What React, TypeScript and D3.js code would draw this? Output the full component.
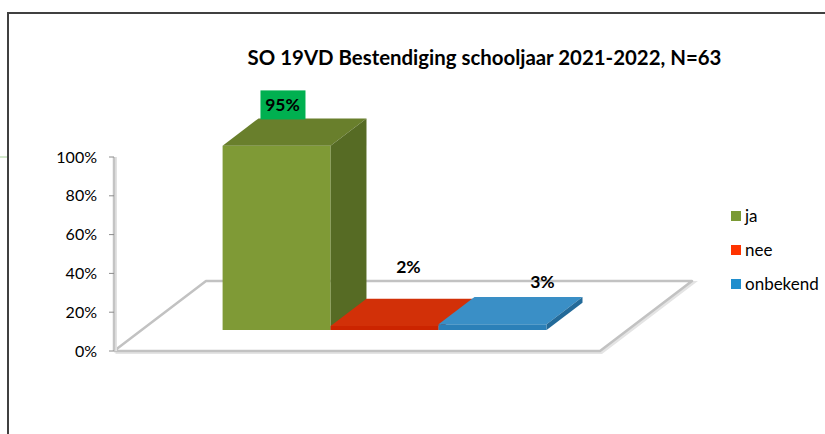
import React from 'react';
import * as d3 from 'd3';

// chart data
const categories = ['ja', 'nee', 'onbekend'];
const shares = [0.95, 0.02, 0.03];
const valueLabels = ['95%', '2%', '3%'];
const yTicks = [0, 0.2, 0.4, 0.6, 0.8, 1];
const title = 'SO 19VD Bestendiging schooljaar 2021-2022, N=63';

// colours per category: front / top / side
const palette = {
  ja: { front: '#7f9a36', top: '#697f2c', side: '#566b24', legend: '#7a9a34' },
  nee: { front: '#cc2400', top: '#d23008', side: '#a81e00', legend: '#ff3300' },
  onbekend: { front: '#2b80b8', top: '#3a8fc6', side: '#236a99', legend: '#1f8ecd' },
};

// layout of the oblique 3D box
const FLOOR_X = 114;
const FLOOR_W = 486;
const DEPTH_X = 92;
const DEPTH_Y = 70;
const BAR_Z0 = 0.3;
const BAR_Z1 = 0.69;
// small per-bar nudges for the data labels, as in the source picture
const labelNudge = [
  { dx: -30, dy: -14 },
  { dx: -12, dy: -32 },
  { dx: 14, dy: -15 },
];

const FONT = 'Lato, "Open Sans", sans-serif';

const App = () => {
  const width = 825;
  const height = 434;

  const y = d3.scaleLinear().domain([0, 1]).range([351, 157]);
  const x = d3.scaleBand<string>()
    .domain(categories)
    .range([0, FLOOR_W])
    .paddingInner(0)
    .paddingOuter(0.75);

  // oblique projection: (floor x, value, depth 0..1) -> screen
  const px = (fx: number, z: number) => FLOOR_X + fx + z * DEPTH_X;
  const py = (v: number, z: number) => y(v) - z * DEPTH_Y;
  const pt = (fx: number, v: number, z: number) => [px(fx, z), py(v, z)] as [number, number];
  const poly = (pts: [number, number][]) => d3.line()(pts.concat([pts[0]])) || '';

  const floor: [number, number][] = [
    pt(0, 0, 0), pt(FLOOR_W, 0, 0), pt(FLOOR_W, 0, 1), pt(0, 0, 1),
  ];

  const bars = categories.map((c, i) => {
    const x0 = x(c) || 0;
    const x1 = x0 + x.bandwidth();
    const v = shares[i];
    const front = poly([pt(x0, 0, BAR_Z0), pt(x1, 0, BAR_Z0), pt(x1, v, BAR_Z0), pt(x0, v, BAR_Z0)]);
    const top = poly([pt(x0, v, BAR_Z0), pt(x1, v, BAR_Z0), pt(x1, v, BAR_Z1), pt(x0, v, BAR_Z1)]);
    const side = poly([pt(x1, 0, BAR_Z0), pt(x1, 0, BAR_Z1), pt(x1, v, BAR_Z1), pt(x1, v, BAR_Z0)]);
    const lx = px((x0 + x1) / 2, BAR_Z1) + labelNudge[i].dx;
    const ly = py(v, BAR_Z1) + labelNudge[i].dy;
    return { c, i, front, top, side, lx, ly };
  });

  const axisX = px(0, 0);

  return (
    <svg width={width} height={height} style={{ position: 'absolute', left: 0, top: 0 }}>
      <rect x={0} y={0} width={width} height={height} fill="#ffffff" />

      {/* outer frame */}
      <line x1={0} x2={8} y1={157} y2={157} stroke="#a9d39a" strokeWidth={1} />
      <line x1={7} x2={width} y1={13} y2={13} stroke="#404040" strokeWidth={2} />
      <line x1={8} x2={8} y1={12} y2={height} stroke="#404040" strokeWidth={2} />

      <text x={484.5} y={65} textAnchor="middle" fontFamily={FONT} fontWeight="bold" fontSize={20.4} fill="#000">
        {title}
      </text>

      {/* floor */}
      <path d={poly(floor.map(([a, b]) => [a + 1.5, b + 1.5] as [number, number]))} fill="none" stroke="#e4e4e4" strokeWidth={3} />
      <path d={poly(floor)} fill="#ffffff" stroke="#c2c2c2" strokeWidth={2.5} strokeLinejoin="round" />

      {/* value axis */}
      <line x1={axisX + 1.5} x2={axisX + 1.5} y1={y(1)} y2={y(0)} stroke="#e2e2e2" strokeWidth={3} />
      <line x1={axisX} x2={axisX} y1={y(1)} y2={y(0)} stroke="#c4c4c4" strokeWidth={2.5} />
      {yTicks.map(t => (
        <g key={t}>
          <line x1={axisX - 5} x2={axisX} y1={y(t)} y2={y(t)} stroke="#8c8c8c" strokeWidth={1} />
          <text x={97} y={y(t)} dy="0.35em" textAnchor="end" fontFamily={FONT} fontSize={16} fill="#000">
            {d3.format('.0%')(t)}
          </text>
        </g>
      ))}

      {/* bars */}
      {bars.map(b => {
        const col = palette[b.c as keyof typeof palette];
        return (
          <g key={b.c}>
            <path d={b.front} fill={col.front} />
            <path d={b.top} fill={col.top} />
            <path d={b.side} fill={col.side} />
          </g>
        );
      })}

      {/* data labels */}
      {bars.map(b => (
        <g key={'l' + b.c}>
          {b.i === 0 && (
            <rect x={b.lx - 22} y={b.ly - 14} width={45} height={29} fill="#00b050" />
          )}
          <text x={b.lx} y={b.ly} dy="0.35em" textAnchor="middle" fontFamily={FONT} fontWeight="bold" fontSize={17.5} fill="#000">
            {valueLabels[b.i]}
          </text>
        </g>
      ))}

      {/* legend */}
      {categories.map((c, i) => (
        <g key={'lg' + c} transform={`translate(731, ${216 + i * 34})`}>
          <rect x={0} y={-5} width={10} height={10} fill={palette[c as keyof typeof palette].legend} />
          <text x={14} y={0} dy="0.35em" fontFamily={FONT} fontSize={17} fill="#000">{c}</text>
        </g>
      ))}
    </svg>
  );
};

export default App;
